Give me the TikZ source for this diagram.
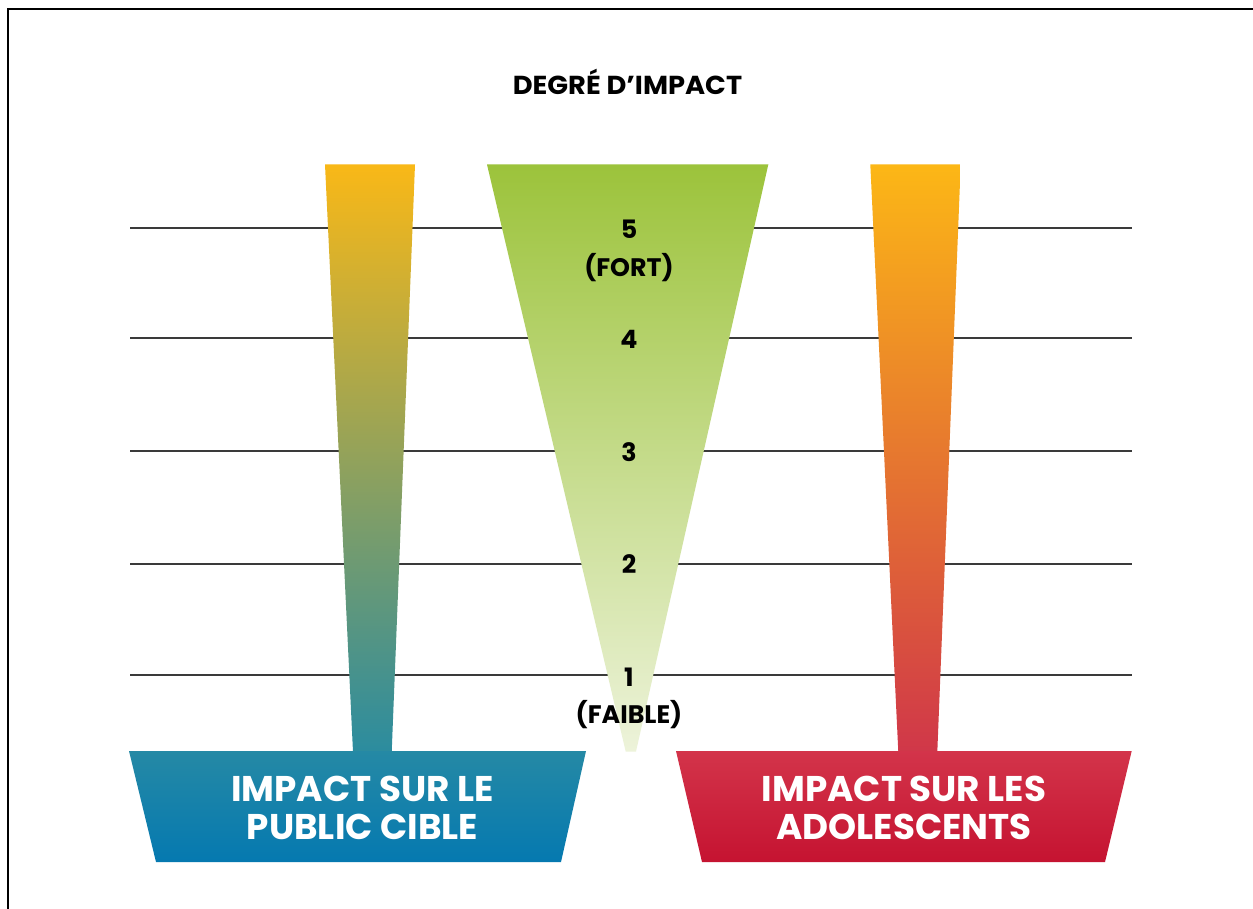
\documentclass[tikz,border=0pt]{standalone}
\usepackage{fontspec}
\setmainfont{Poppins}
\newfontfamily\titlefont{Poppins}[FakeStretch=1.05]
\definecolor{barLtop}{HTML}{F9B817}
\definecolor{barLmid}{HTML}{92A362}
\definecolor{barLbot}{HTML}{2B8C9F}
\definecolor{trapLtop}{HTML}{2589A5}
\definecolor{trapLbot}{HTML}{0579B0}
\definecolor{barRtop}{HTML}{FCB716}
\definecolor{barRmid}{HTML}{E6844F}
\definecolor{barRbot}{HTML}{D03749}
\definecolor{trapRtop}{HTML}{D3344A}
\definecolor{trapRbot}{HTML}{C51331}
\definecolor{triTop}{HTML}{9CC33B}
\definecolor{triBot}{HTML}{EDF3DA}
\definecolor{gridgray}{HTML}{3A3A3A}
\tikzset{
  gridline/.style={draw=gridgray, line width=0.8pt},
  frameline/.style={draw=black, line width=1pt},
  titletext/.style={font=\titlefont\bfseries\fontsize{19.5}{22}\selectfont, inner sep=0pt, anchor=base},
  lvltext/.style={font=\bfseries\fontsize{19}{22}\selectfont, inner sep=0pt, anchor=base},
  boxtext/.style={font=\bfseries\fontsize{26.8}{28.3}\selectfont, text=white, align=center, inner sep=0pt}
}
\begin{document}
\begin{tikzpicture}[x=0.75pt,y=-0.75pt]
\useasboundingbox (0,0) rectangle (1253,909);
\fill[white] (0,0) rectangle (1253,909);
% frame (top and left edges)
\draw[frameline] (8,909) -- (8,9) -- (1253,9);
% grid lines
\foreach \yy in {228,338,451,564,675}
  \draw[gridline] (130,\yy) -- (1131.5,\yy);
% title
\node[titletext] (title) at (627.5,95) {DEGRÉ D’IMPACT};
% left bar
\shade[top color=barLtop, middle color=barLmid, bottom color=barLbot]
  (325,164.5) -- (415,164.5) -- (391.7,752) -- (353,752) -- cycle;
\shade[top color=trapLtop, bottom color=trapLbot]
  (129,751) -- (586,751) -- (561,862) -- (156,862) -- cycle;
% right bar
\shade[top color=barRtop, middle color=barRmid, bottom color=barRbot]
  (870.3,164.5) -- (960.7,164.5) -- (937.3,752) -- (898.3,752) -- cycle;
\shade[top color=trapRtop, bottom color=trapRbot]
  (676,751) -- (1131.7,751) -- (1105,862) -- (702,862) -- cycle;
% centre triangle
\shade[top color=triTop, bottom color=triBot]
  (487,164.5) -- (768.3,164.5) -- (636,751.5) -- (625.7,751.5) -- cycle;
% level labels
\node[lvltext] (l5) at (629,239) {5};
\node[lvltext] (fort) at (629,276.5) {(FORT)};
\node[lvltext] (l4) at (629,349) {4};
\node[lvltext] (l3) at (629,461) {3};
\node[lvltext] (l2) at (629,573) {2};
\node[lvltext] (l1) at (629,686) {1};
\node[lvltext] (faible) at (629,723) {(FAIBLE)};
% box labels
\node[boxtext] (pub) at (362.5,808) {IMPACT SUR LE\\PUBLIC CIBLE};
\node[boxtext] (ado) at (904,808) {IMPACT SUR LES\\ADOLESCENTS};
\end{tikzpicture}
\end{document}
